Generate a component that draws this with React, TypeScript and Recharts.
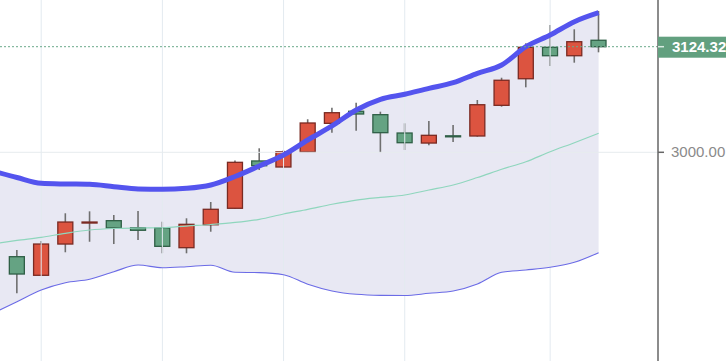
import {
  ComposedChart,
  Area,
  Line,
  Bar,
  XAxis,
  YAxis,
  ReferenceLine,
} from "recharts";

// candles (index 0..24)
const opens = [
  2877.1, 2855.2, 2892.0, 2917.4, 2919.5, 2911.2, 2910.9, 2887.7, 2914.7, 2934.1,
  2989.8, 2982.7, 3000.4, 3034.1, 3048.3, 3044.3, 3022.7, 3010.9, 3019.4, 3019.2,
  3055.3, 3086.6, 3123.6, 3113.7, 3131.9,
];
const highs = [
  2885.0, 2895.6, 2928.2, 2930.5, 2926.2, 2930.9, 2918.3, 2922.3, 2941.5, 2990.3,
  3004.7, 3002.4, 3038.9, 3052.5, 3058.4, 3047.8, 3034.1, 3036.8, 3032.1, 3061.6,
  3087.8, 3128.3, 3149.9, 3144.8, 3166.4,
];
const lows = [
  2834.0, 2854.6, 2882.3, 2894.7, 2892.0, 2896.8, 2881.1, 2881.1, 2906.5, 2933.6,
  2979.2, 2982.2, 3000.0, 3023.1, 3025.4, 3000.0, 3002.7, 3008.2, 3012.1, 3018.4,
  3053.7, 3076.5, 3101.6, 3105.5, 3117.7,
];
const closes = [
  2856.7, 2892.0, 2917.9, 2917.9, 2910.9, 2908.2, 2889.3, 2915.2, 2932.9, 2988.2,
  2984.2, 3000.7, 3034.5, 3046.6, 3045.1, 3023.1, 3011.3, 3020.0, 3019.0, 3056.0,
  3084.8, 3123.6, 3113.7, 3130.2, 3124.32,
];

// bollinger bands (index -1..24, first point sits just off the left edge)
const upperBand = [
  2978.0, 2970.3, 2963.5, 2962.7, 2962.3, 2959.5, 2956.8, 2956.4, 2957.6, 2961.5,
  2971.5, 2983.9, 2996.8, 3014.5, 3031.0, 3049.8, 3062.4, 3068.3, 3075.3, 3081.9,
  3093.0, 3102.8, 3124.3, 3138.1, 3153.8, 3164.4,
];
const middleBand = [
  2892.0, 2896.2, 2899.9, 2904.6, 2908.5, 2910.3, 2910.9, 2911.2, 2913.2, 2915.0,
  2917.4, 2921.1, 2927.4, 2932.9, 2938.8, 2943.8, 2947.0, 2949.7, 2955.6, 2961.5,
  2970.3, 2980.0, 2988.9, 3000.7, 3011.3, 3022.4,
];
const lowerBand = [
  2810.2, 2824.1, 2837.9, 2846.5, 2850.5, 2859.4, 2867.3, 2864.1, 2865.3, 2867.0,
  2858.7, 2858.4, 2855.9, 2844.6, 2836.7, 2832.8, 2831.6, 2831.4, 2834.0, 2836.7,
  2845.0, 2858.7, 2861.4, 2864.6, 2870.5, 2881.8,
];

const gridIndexes = [1, 6, 11, 16, 22];
const priceTicks = [3000];
const lastPrice = closes[closes.length - 1];

const rows = upperBand.map((u, k) => {
  const i = k - 1;
  const row: any = {
    i,
    upper: u,
    mid: middleBand[k],
    lower: lowerBand[k],
    band: [lowerBand[k], u],
  };
  if (i >= 0) {
    row.o = opens[i];
    row.h = highs[i];
    row.l = lows[i];
    row.c = closes[i];
    row.range = [lows[i], highs[i]];
  }
  return row;
});

const Candle = (props: any) => {
  const { x, y, width, height, payload } = props;
  if (!payload || payload.o == null || !height) return null;
  const { o, h, l, c } = payload;
  const ppu = height / (h - l);
  const yOf = (v: number) => y + (h - v) * ppu;
  const cx = x + width / 2;
  const up = c >= o;
  const top = yOf(Math.max(o, c));
  const bottom = yOf(Math.min(o, c));
  const bodyW = 15;
  return (
    <g>
      <line x1={cx} x2={cx} y1={y} y2={y + height} stroke="#6f6f6f" strokeWidth={1.6} />
      <rect
        x={cx - bodyW / 2}
        y={top}
        width={bodyW}
        height={Math.max(bottom - top, 1)}
        fill={up ? "#dc5440" : "#65a383"}
        stroke={up ? "#7a2a22" : "#2f5f46"}
        strokeWidth={1.3}
      />
    </g>
  );
};

const PriceTick = (props: any) => {
  const { x, y, payload } = props;
  const isLast = payload.value === lastPrice;
  const left = x - 12;
  if (isLast) {
    return (
      <g>
        <rect x={left} y={y - 10} width={70} height={21} fill="#62a07f" />
        <line x1={left} x2={left + 6} y1={y} y2={y} stroke="#d9ebe1" strokeWidth={1.5} />
        <text x={x + 2} y={y + 5} fill="#ffffff" fontSize={15} fontWeight={700}>
          {payload.value.toFixed(2)}
        </text>
      </g>
    );
  }
  return (
    <g>
      <line x1={left} x2={left + 6} y1={y} y2={y} stroke="#666" strokeWidth={1.5} />
      <text x={x + 1} y={y + 5} fill="#8a8a8a" fontSize={15}>
        {payload.value.toFixed(2)}
      </text>
    </g>
  );
};

export default function App() {
  return (
    <div
      style={{
        position: "absolute",
        left: 0,
        top: 0,
        width: 726,
        height: 361,
        background: "#ffffff",
        fontFamily: "'Liberation Sans', Arial, sans-serif",
        overflow: "hidden",
      }}
    >
      <ComposedChart
        width={726}
        height={361}
        data={rows}
        margin={{ top: 0, right: 0, bottom: 0, left: 0 }}
      >
        <XAxis
          dataKey="i"
          type="number"
          domain={[-0.7, 26.45]}
          allowDataOverflow
          hide
        />
        <YAxis
          orientation="right"
          type="number"
          domain={[2754.3, 3179.3]}
          allowDataOverflow
          width={68}
          ticks={[...priceTicks, lastPrice]}
          tickLine={false}
          axisLine={{ stroke: "#666", strokeWidth: 1.5 }}
          tick={<PriceTick />}
          tickMargin={6}
        />

        {gridIndexes.map((g) => (
          <ReferenceLine key={g} x={g} stroke="#e3eaf0" strokeWidth={1} />
        ))}
        {priceTicks.map((p) => (
          <ReferenceLine key={p} y={p} stroke="#e6ecee" strokeWidth={1} />
        ))}

        <Area
          dataKey="band"
          type="monotone"
          fill="#e4e4f1"
          fillOpacity={0.85}
          stroke="none"
          isAnimationActive={false}
        />
        <Line
          dataKey="mid"
          type="monotone"
          stroke="#8fd6bd"
          strokeWidth={1.2}
          dot={false}
          isAnimationActive={false}
        />
        <Line
          dataKey="lower"
          type="monotone"
          stroke="#6b6be6"
          strokeWidth={1.1}
          dot={false}
          isAnimationActive={false}
        />
        <Line
          dataKey="upper"
          type="monotone"
          stroke="#5454ee"
          strokeWidth={5}
          dot={false}
          isAnimationActive={false}
        />

        <ReferenceLine
          y={lastPrice}
          stroke="#6aa98a"
          strokeDasharray="2 2"
          strokeWidth={1}
        />

        <Bar
          dataKey="range"
          barSize={16}
          shape={<Candle />}
          isAnimationActive={false}
        />
      </ComposedChart>
    </div>
  );
}
